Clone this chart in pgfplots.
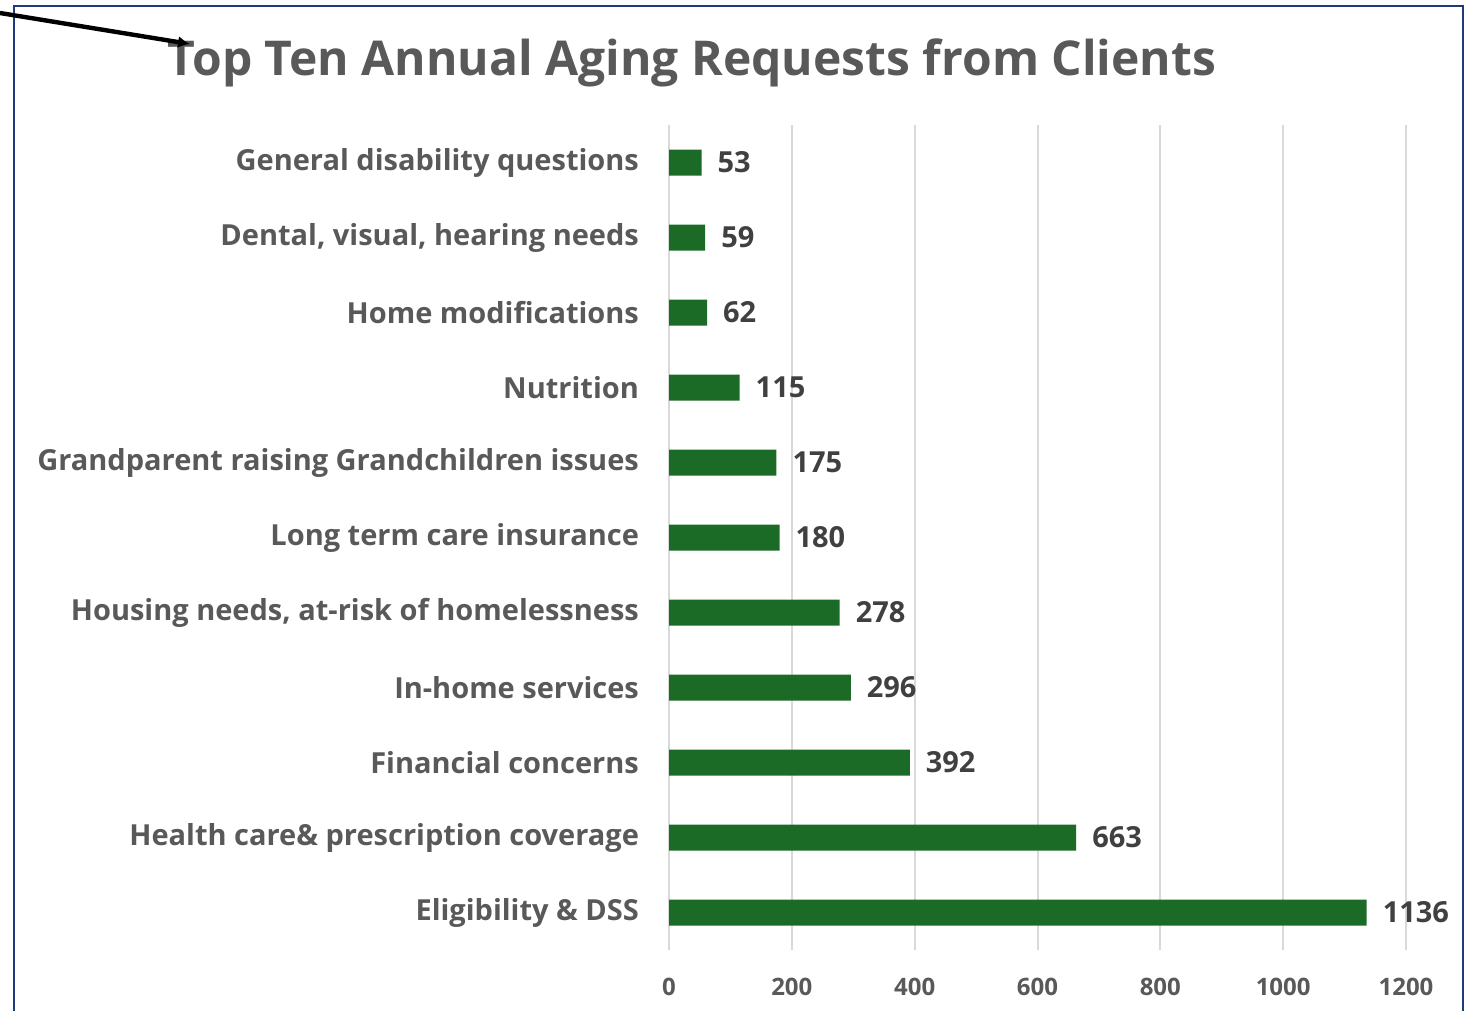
\documentclass[border=0pt]{standalone}
\usepackage{pgfplots}
\pgfplotsset{compat=1.18}
\usetikzlibrary{arrows.meta}
\usepackage{fontspec}
\setmainfont{Open Sans}
\definecolor{barg}{HTML}{1B6B27}
\definecolor{gridc}{HTML}{D9D9D9}
\definecolor{txtg}{HTML}{595959}
\definecolor{lblg}{HTML}{404040}
\definecolor{frameb}{HTML}{1F3A7A}
\begin{document}
\begin{tikzpicture}
\useasboundingbox (0,0) rectangle (739pt,-505.5pt);
\begin{scope}[x=0.5pt,y=-0.5pt]
\draw[frameb, line width=1.2pt] (14,1020) -- (14,6) -- (1463,6) -- (1463,1020);
\node[anchor=base, text=txtg, font=\bfseries\fontsize{24}{28}\selectfont] at (692,76) {Top Ten Annual Aging Requests from Clients};
\draw[black, line width=2.2pt, -{Latex[length=6pt,width=6pt]}] (0,13) -- (190,44);
\end{scope}
\begin{axis}[
  at={(334.5pt,-475pt)}, anchor=south west,
  scale only axis, width=368.5pt, height=412.5pt,
  xbar, bar width=13pt,
  xmin=0, xmax=1200, ymin=-0.5, ymax=10.5,
  xtick={0,200,...,1200},
  ytick={0,...,10},
  yticklabels={Eligibility \& DSS, Health care\& prescription coverage, Financial concerns, In-home services, {Housing needs, at-risk of homelessness}, Long term care insurance, Grandparent raising Grandchildren issues, Nutrition, Home modifications, {Dental, visual, hearing needs}, General disability questions},
  xmajorgrids, major grid style={gridc, line width=1pt},
  axis line style={draw=none},
  major tick length=0pt,
  xticklabel style={text=txtg, font=\bfseries\fontsize{12}{14}\selectfont, yshift=-10.5pt},
  yticklabel style={text=txtg, font=\bfseries\fontsize{14.5}{17}\selectfont, xshift=-11.5pt},
  /pgf/number format/assume math mode=true,
  /pgf/number format/1000 sep={},
  scaled x ticks=false,
  nodes near coords,
  every node near coord/.append style={text=lblg, font=\bfseries\fontsize{14.5}{17}\selectfont, xshift=4.5pt, /pgf/number format/1000 sep={}},
  clip=false,
]
\addplot[fill=barg, draw=none] coordinates {
(1136,0) (663,1) (392,2) (296,3) (278,4) (180,5) (175,6) (115,7) (62,8) (59,9) (53,10)
};
\end{axis}
\end{tikzpicture}
\end{document}
